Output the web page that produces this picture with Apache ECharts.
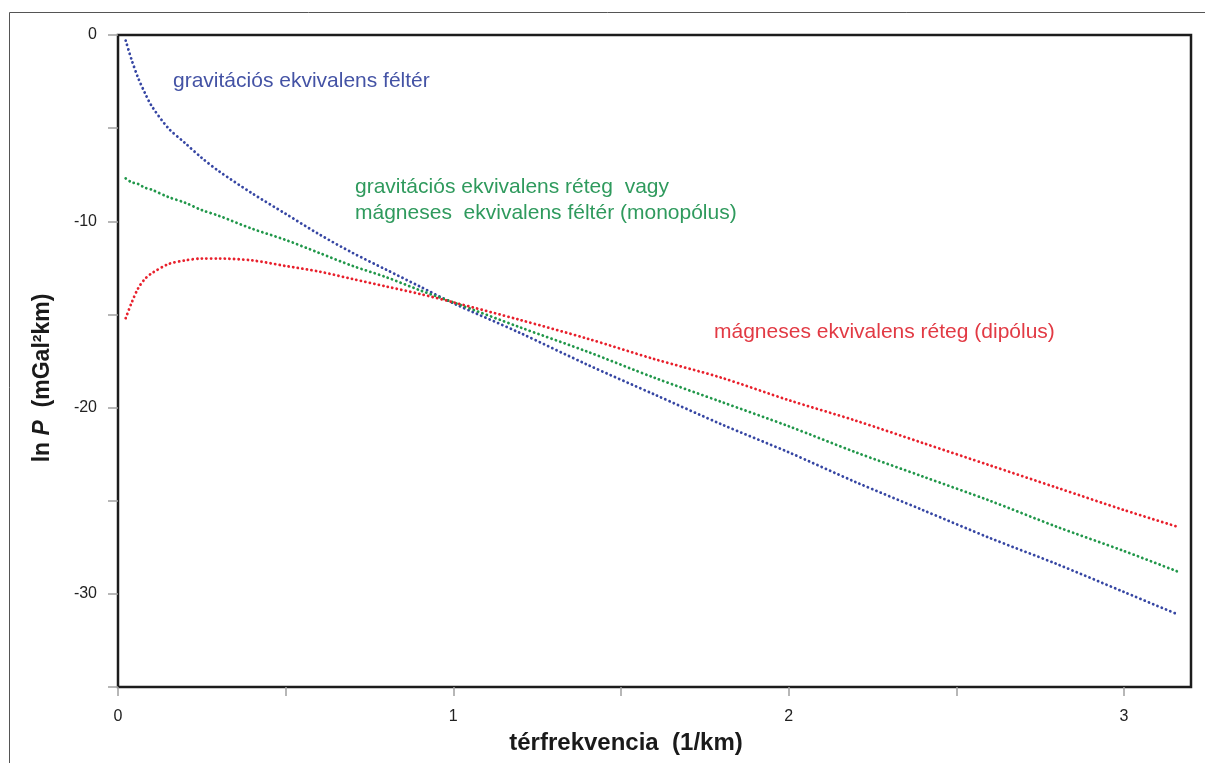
<!DOCTYPE html>
<html>
<head>
<meta charset="utf-8">
<script src="https://cdn.jsdelivr.net/npm/echarts@6/dist/echarts.min.js"></script>
<style>
html,body{margin:0;padding:0;background:#fff;}
#chart{width:1205px;height:763px;}
</style>
</head>
<body>
<div id="chart"></div>
<script>
// spatial frequency (1/km)
const xValues = [0.023, 0.04, 0.06, 0.08, 0.1, 0.15, 0.2, 0.25, 0.3, 0.4, 0.5, 0.6, 0.7, 0.8, 0.9, 1.0, 1.2, 1.4, 1.6, 1.8, 2.0, 2.2, 2.4, 2.6, 2.8, 3.0, 3.16];
// ln P - gravitational equivalent half-space (blue)
const halfSpaceGrav = [-0.3, -1.3, -2.3, -3.1, -3.8, -5.0, -5.8, -6.6, -7.3, -8.5, -9.6, -10.7, -11.7, -12.6, -13.5, -14.4, -16.0, -17.7, -19.3, -20.9, -22.4, -24.0, -25.5, -27.0, -28.4, -29.9, -31.1];
// ln P - gravitational equivalent layer / magnetic half-space (monopole) (green)
const layerMonopole = [-7.7, -7.9, -8.0, -8.2, -8.3, -8.7, -9.0, -9.4, -9.7, -10.4, -11.0, -11.7, -12.4, -13.0, -13.7, -14.35, -15.7, -17.0, -18.4, -19.7, -21.0, -22.4, -23.7, -25.0, -26.4, -27.7, -28.8];
// ln P - magnetic equivalent layer (dipole) (red)
const layerDipole = [-15.2, -14.4, -13.6, -13.1, -12.8, -12.3, -12.1, -12.0, -12.0, -12.1, -12.4, -12.7, -13.1, -13.5, -13.9, -14.35, -15.3, -16.3, -17.4, -18.4, -19.6, -20.7, -21.9, -23.1, -24.3, -25.5, -26.4];
const xTickLabels = ['0', '1', '2', '3'];
const yTickLabels = ['0', '-10', '-20', '-30'];
const seriesNames = ['gravitációs ekvivalens féltér', 'gravitációs ekvivalens réteg vagy mágneses ekvivalens féltér (monopólus)', 'mágneses ekvivalens réteg (dipólus)'];

function pairs(ys) { return xValues.map((x, i) => [x, ys[i]]); }

const chart = echarts.init(document.getElementById('chart'), null, {renderer: 'canvas'});
const font = '"Liberation Sans", Arial, Helvetica, sans-serif';
function dotted(color) {
  return {color: color, width: 2.8, type: [0.1, 4.5], cap: 'round'};
}
const option = {
  animation: false,
  backgroundColor: '#fff',
  textStyle: {fontFamily: font},
  grid: {left: 118, top: 35, width: 1073, height: 652, show: true, borderColor: '#1c1c1c', borderWidth: 2.5, backgroundColor: 'transparent'},
  xAxis: {
    type: 'value', min: 0, max: 3.2, interval: 0.5, position: 'bottom',
    axisLine: {show: false, onZero: false},
    splitLine: {show: false},
    axisTick: {show: true, length: 9, lineStyle: {color: '#a0a0a0', width: 1.5}},
    axisLabel: {
      margin: 22, fontSize: 16, color: '#222', fontFamily: font, showMaxLabel: false,
      formatter: v => { const s = String(v); return xTickLabels.indexOf(s) >= 0 ? s : ''; }
    }
  },
  yAxis: {
    type: 'value', min: -35, max: 0, interval: 5, position: 'left',
    axisLine: {show: false, onZero: false},
    splitLine: {show: false},
    axisTick: {show: true, length: 10, lineStyle: {color: '#a0a0a0', width: 1.5}},
    axisLabel: {
      margin: 21, fontSize: 16, color: '#222', fontFamily: font,
      formatter: v => { const s = String(v); return yTickLabels.indexOf(s) >= 0 ? s : ''; }
    }
  },
  series: [
    {name: seriesNames[0], type: 'line', data: pairs(halfSpaceGrav), showSymbol: false, smooth: 0.3, lineStyle: dotted('#3646a3')},
    {name: seriesNames[1], type: 'line', data: pairs(layerMonopole), showSymbol: false, smooth: 0.3, lineStyle: dotted('#21974a')},
    {name: seriesNames[2], type: 'line', data: pairs(layerDipole), showSymbol: false, smooth: 0.3, lineStyle: dotted('#e8202c')}
  ],
  graphic: [
    {type: 'polyline', shape: {points: [[9.5, 763], [9.5, 12.5], [1205, 12.5]]}, style: {stroke: '#555', lineWidth: 1, fill: null}, silent: true},
    {type: 'text', left: 173, top: 71, style: {text: 'gravitációs ekvivalens féltér', fill: '#4453a5', font: '21px ' + font}},
    {type: 'text', left: 355, top: 177, style: {text: 'gravitációs ekvivalens réteg  vagy', fill: '#2f9a5d', font: '21px ' + font}},
    {type: 'text', left: 355, top: 203, style: {text: 'mágneses  ekvivalens féltér (monopólus)', fill: '#2f9a5d', font: '21px ' + font}},
    {type: 'text', left: 714, top: 322, style: {text: 'mágneses ekvivalens réteg (dipólus)', fill: '#e23a44', font: '21px ' + font}},
    {type: 'text', x: 43, y: 378, rotation: Math.PI / 2,
      style: {text: '{a|ln }{b|P}{a|  (mGal²km)}', align: 'center', verticalAlign: 'middle',
        rich: {a: {font: 'bold 23px ' + font, fill: '#1a1a1a'}, b: {font: 'italic bold 23px ' + font, fill: '#1a1a1a'}}}},
    {type: 'text', x: 626, y: 743,
      style: {text: 'térfrekvencia  (1/km)', align: 'center', verticalAlign: 'middle', fill: '#1a1a1a', font: 'bold 24px ' + font}}
  ]
};
chart.setOption(option);
</script>
</body>
</html>
